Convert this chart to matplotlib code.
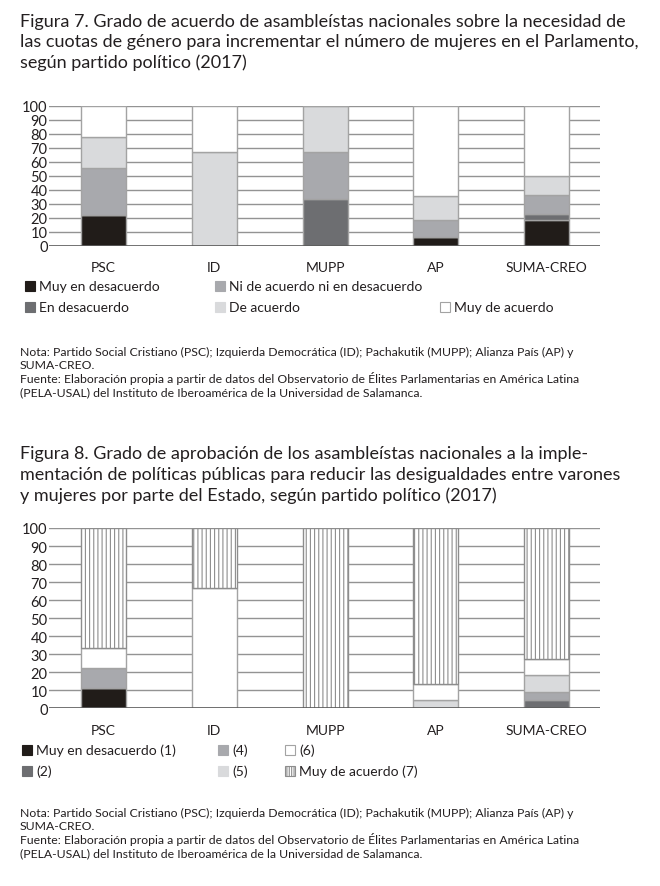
import matplotlib
matplotlib.use("Agg")
import matplotlib.pyplot as plt
from matplotlib.patches import Rectangle
import numpy as np

plt.rcParams['font.family'] = ['Lato', 'DejaVu Sans']
plt.rcParams['hatch.linewidth'] = 0.8

# ---------------- data ----------------
categories = ['PSC', 'ID', 'MUPP', 'AP', 'SUMA-CREO']

# Figura 7
f7_labels = ['Muy en desacuerdo', 'En desacuerdo', 'Ni de acuerdo ni en desacuerdo',
             'De acuerdo', 'Muy de acuerdo']
f7_muy_desacuerdo = [22.2, 0.0, 0.0, 6.0, 18.2]
f7_en_desacuerdo = [0.0, 0.0, 33.3, 0.0, 4.5]
f7_ni = [33.3, 0.0, 33.3, 12.6, 13.6]
f7_de_acuerdo = [22.2, 66.7, 33.4, 16.6, 13.7]
f7_muy_de_acuerdo = [22.3, 33.3, 0.0, 64.8, 50.0]

# Figura 8
f8_labels = ['Muy en desacuerdo (1)', '(2)', '(4)', '(5)', '(6)', 'Muy de acuerdo (7)']
f8_1 = [11.1, 0.0, 0.0, 0.0, 0.0]
f8_2 = [0.0, 0.0, 0.0, 0.0, 4.5]
f8_4 = [11.1, 0.0, 0.0, 0.0, 4.6]
f8_5 = [0.0, 0.0, 0.0, 4.5, 9.1]
f8_6 = [11.1, 66.7, 0.0, 9.1, 9.1]
f8_7 = [66.7, 33.3, 100.0, 86.4, 72.7]

yticks = list(range(0, 101, 10))

title7 = ["Figura 7. Grado de acuerdo de asambleístas nacionales sobre la necesidad de",
          "las cuotas de género para incrementar el número de mujeres en el Parlamento,",
          "según partido político (2017)"]
title8 = ["Figura 8. Grado de aprobación de los asambleístas nacionales a la imple-",
          "mentación de políticas públicas para reducir las desigualdades entre varones",
          "y mujeres por parte del Estado, según partido político (2017)"]
notes = ["Nota: Partido Social Cristiano (PSC); Izquierda Democrática (ID); Pachakutik (MUPP); Alianza País (AP) y",
         "SUMA-CREO.",
         "Fuente: Elaboración propia a partir de datos del Observatorio de Élites Parlamentarias en América Latina",
         "(PELA-USAL) del Instituto de Iberoamérica de la Universidad de Salamanca."]

# ---------------- style ----------------
BLACK = '#211c19'
DARK = '#6d6e71'
MID = '#a8a9ad'
LIGHT = '#d9dadc'
WHITE = '#ffffff'
EDGE = '#a3a3a3'
HATCH_EDGE = '#8d8d8d'
GRID = '#939393'
TXT = '#231f20'

W, H = 660, 887
fig = plt.figure(figsize=(W / 100, H / 100), dpi=100)


def fx(px):
    return px / W


def fy(py):
    return 1 - py / H


def make_axes(top, bottom):
    ax = fig.add_axes([fx(49), fy(bottom), fx(600) - fx(49), fy(top) - fy(bottom)])
    ax.set_xlim(-0.49, 4.48)
    ax.set_ylim(0, 100)
    ax.set_yticks(yticks)
    ax.set_yticklabels([str(t) for t in yticks], fontsize=10.5, color=TXT)
    ax.tick_params(axis='y', length=0, pad=1)
    ax.tick_params(axis='x', length=0, pad=11)
    ax.set_xticks(range(len(categories)))
    ax.set_xticklabels(categories, fontsize=10, color=TXT)
    for s in ax.spines.values():
        s.set_visible(False)
    for t in yticks[1:]:
        ax.axhline(t, color=GRID, lw=1.0, zorder=0)
    ax.axhline(0, color='#5a5a5a', lw=1.2, zorder=3)
    ax.patch.set_alpha(0)
    return ax


def stack(ax, series, colors, hatches):
    x = np.arange(len(categories))
    bottom = np.zeros(len(categories))
    for vals, c, h in zip(series, colors, hatches):
        vals = np.array(vals)
        ax.bar(x, vals, width=0.405, bottom=bottom, color=c,
               edgecolor=HATCH_EDGE if h else EDGE, linewidth=1.0,
               hatch=h, zorder=2)
        bottom += vals


def legend_item(x, y, label, color, hatch=None):
    r = Rectangle((fx(x), fy(y + 5)), fx(10), fy(0) - fy(10), transform=fig.transFigure,
                  facecolor=color, edgecolor=(HATCH_EDGE if hatch else (EDGE if color == WHITE else color)),
                  linewidth=0.8, hatch=hatch)
    fig.add_artist(r)
    fig.text(fx(x + 14), fy(y), label, fontsize=10, color=TXT, va='center', ha='left')


# ---------------- Figure 7 ----------------
for i, line in enumerate(title7):
    fig.text(fx(20), fy(22 + i * 20.5), line, fontsize=13.0, color=TXT, va='center', ha='left')

ax1 = make_axes(106.7, 246.7)
stack(ax1, [f7_muy_desacuerdo, f7_en_desacuerdo, f7_ni, f7_de_acuerdo, f7_muy_de_acuerdo],
      [BLACK, DARK, MID, LIGHT, WHITE], [None] * 5)

legend_item(25, 287, f7_labels[0], BLACK)
legend_item(25, 308, f7_labels[1], DARK)
legend_item(215, 287, f7_labels[2], MID)
legend_item(215, 308, f7_labels[3], LIGHT)
legend_item(440, 308, f7_labels[4], WHITE)

for i, line in enumerate(notes):
    fig.text(fx(20), fy(352 + i * 13.5), line, fontsize=8.8, color=TXT, va='center', ha='left')

# ---------------- Figure 8 ----------------
for i, line in enumerate(title8):
    fig.text(fx(20), fy(454 + i * 21), line, fontsize=13.0, color=TXT, va='center', ha='left')

ax2 = make_axes(529, 709.3)
stack(ax2, [f8_1, f8_2, f8_4, f8_5, f8_6, f8_7],
      [BLACK, DARK, MID, LIGHT, WHITE, WHITE], [None] * 5 + ['||||'])

legend_item(22, 751, f8_labels[0], BLACK)
legend_item(22, 772, f8_labels[1], DARK)
legend_item(218, 751, f8_labels[2], MID)
legend_item(218, 772, f8_labels[3], LIGHT)
legend_item(285, 751, f8_labels[4], WHITE)
legend_item(285, 772, f8_labels[5], WHITE, hatch='|||||||')

for i, line in enumerate(notes):
    fig.text(fx(20), fy(813 + i * 13.5), line, fontsize=8.8, color=TXT, va='center', ha='left')

fig.savefig('out.png', dpi=100, facecolor='white')
